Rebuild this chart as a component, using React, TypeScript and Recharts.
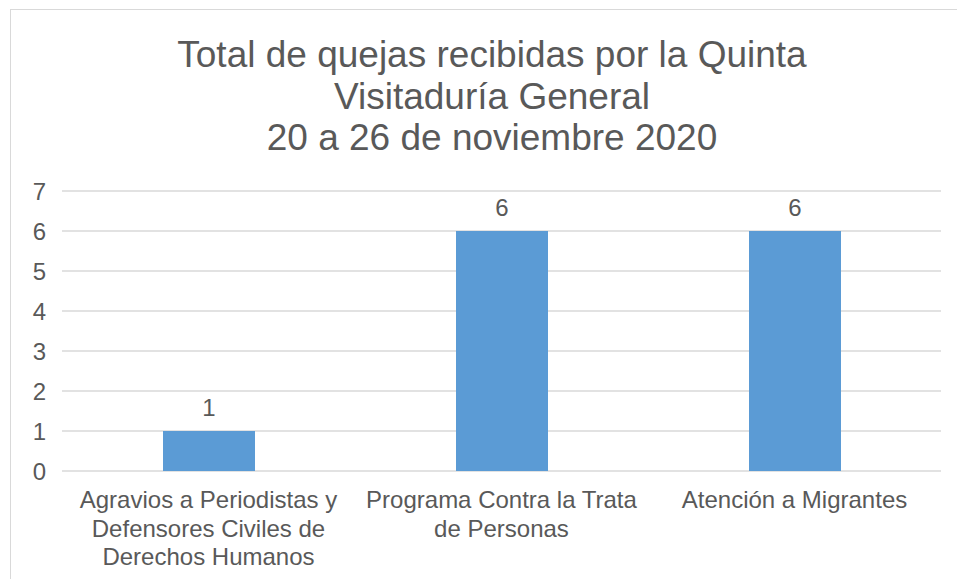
import { BarChart, Bar, XAxis, YAxis, CartesianGrid, LabelList } from "recharts"

const categorias = [
  "Agravios a Periodistas y\nDefensores Civiles de\nDerechos Humanos",
  "Programa Contra la Trata\nde Personas",
  "Atención a Migrantes",
]
const quejas = [1, 6, 6]
const yTicks = [0, 1, 2, 3, 4, 5, 6, 7]
const tituloLineas = [
  "Total de quejas recibidas por la Quinta",
  "Visitaduría General",
  "20 a 26 de noviembre 2020",
]

const chartData = categorias.map((c, i) => ({ categoria: c, quejas: quejas[i] }))

const font = "'Liberation Sans', Arial, sans-serif"
const gris = "#595959"

function CategoryTick(props: any) {
  const { x, y, payload } = props
  const lines = String(payload.value).split("\n")
  return (
    <text x={x} y={y} textAnchor="middle" fill={gris} fontSize={24} fontFamily={font}>
      {lines.map((l, i) => (
        <tspan key={i} x={x} dy={i === 0 ? "0.71em" : 28.5}>
          {l}
        </tspan>
      ))}
    </text>
  )
}

export default function App() {
  return (
    <div style={{ position: "absolute", left: 0, top: 0, width: 957, height: 579, background: "#fff", overflow: "hidden" }}>
      <div
        style={{
          position: "absolute",
          left: 10,
          top: 9,
          width: 960,
          height: 600,
          borderTop: "1px solid #d9d9d9",
          borderLeft: "1px solid #d9d9d9",
        }}
      />
      <div
        style={{
          position: "absolute",
          left: 102,
          top: 34,
          width: 780,
          textAlign: "center",
          fontFamily: font,
          fontSize: 37,
          lineHeight: "41.5px",
          color: gris,
        }}
      >
        {tituloLineas.map((t) => (
          <div key={t}>{t}</div>
        ))}
      </div>
      <div style={{ position: "absolute", left: 0, top: 0 }}>
        <BarChart width={957} height={579} data={chartData} margin={{ top: 191, right: 16, left: 0, bottom: 0 }}>
          <CartesianGrid vertical={false} stroke="#d9d9d9" strokeWidth={1.3} />
          <XAxis
            dataKey="categoria"
            height={108}
            axisLine={false}
            tickLine={false}
            tickSize={0}
            tickMargin={20}
            interval={0}
            tick={<CategoryTick />}
          />
          <YAxis
            width={62}
            domain={[0, 7]}
            ticks={yTicks}
            axisLine={false}
            tickLine={false}
            tickSize={0}
            tickMargin={16}
            tick={{ fill: gris, fontSize: 24, fontFamily: font }}
          />
          <Bar dataKey="quejas" fill="#5b9bd5" barSize={92} isAnimationActive={false}>
            <LabelList dataKey="quejas" position="top" offset={15} fill={gris} fontSize={24} fontFamily={font} />
          </Bar>
        </BarChart>
      </div>
    </div>
  )
}
